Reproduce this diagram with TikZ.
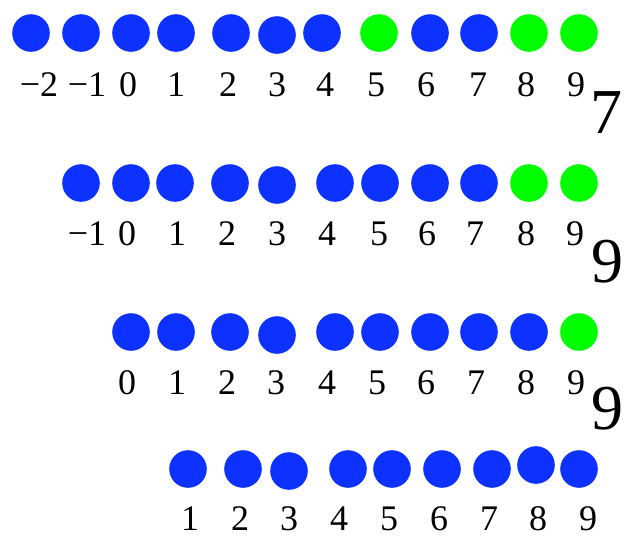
\documentclass[tikz,border=0pt]{standalone}
\usepackage{fontspec}
\setmainfont{LiberationSerif}[Extension=.ttf, UprightFont=*-Regular]
\definecolor{dotblue}{RGB}{13,50,255}
\definecolor{dotgreen}{RGB}{0,255,0}
\tikzset{
  dot/.style={circle, fill=dotblue, minimum size=37.6pt, inner sep=0pt},
  gdot/.style={dot, fill=dotgreen},
  lab/.style={anchor=base, font=\fontsize{36}{40}\selectfont, inner sep=0pt},
  big/.style={anchor=base, font=\fontsize{64}{70}\selectfont, inner sep=0pt}
}
\begin{document}
\begin{tikzpicture}[x=1pt,y=-1pt]
\useasboundingbox (0,0) rectangle (636,550);
% Row 1
\foreach \n/\x/\y/\s in {a/31/33/dot,b/81/33/dot,c/131/33/dot,d/176/33/dot,e/231/33/dot,f/277/35/dot,g/322/33/dot,h/379/33/gdot,i/430/33/dot,j/479/33/dot,k/529/33/gdot,l/579/33/gdot}
  \node[\s] (r1\n) at (\x,\y) {};
\foreach \n/\x/\t in {a/39/−2,b/87/−1,c/128/0,d/176/1,e/228/2,f/277/3,g/325/4,h/376/5,i/426/6,j/478/7,k/526/8,l/576/9}
  \node[lab] (t1\n) at (\x,96.5) {\t};
\node[big] (big1) at (606,133) {7};
% Row 2
\foreach \n/\x/\y/\s in {b/81/183/dot,c/131/183/dot,d/175/183/dot,e/230/183/dot,f/277/185/dot,g/335/183/dot,h/380/183/dot,i/430/183/dot,j/479/183/dot,k/529/183/gdot,l/579/183/gdot}
  \node[\s] (r2\n) at (\x,\y) {};
\foreach \n/\x/\t in {b/87/−1,c/127/0,d/177/1,e/227/2,f/277/3,g/327/4,h/379/5,i/427/6,j/475/7,k/526/8,l/575/9}
  \node[lab] (t2\n) at (\x,245) {\t};
\node[big] (big2) at (607,282) {9};
% Row 3
\foreach \n/\x/\y/\s in {c/131/332/dot,d/176/332/dot,e/230/332/dot,f/277/335/dot,g/335/332/dot,h/380/332/dot,i/430/332/dot,j/479/332/dot,k/529/332/dot,l/579/332/gdot}
  \node[\s] (r3\n) at (\x,\y) {};
\foreach \n/\x/\t in {c/127/0,d/177/1,e/227/2,f/276/3,g/327/4,h/377/5,i/426/6,j/476/7,k/526/8,l/576/9}
  \node[lab] (t3\n) at (\x,394) {\t};
\node[big] (big3) at (607,429) {9};
% Row 4
\foreach \n/\x/\y in {d/188/469,e/243/469,f/289/471,g/348/469,h/392/469,i/442/469,j/492/469,k/536/465,l/579/469}
  \node[dot] (r4\n) at (\x,\y) {};
\foreach \n/\x/\t in {d/190/1,e/240/2,f/289/3,g/339/4,h/389/5,i/439/6,j/489/7,k/538/8,l/588/9}
  \node[lab] (t4\n) at (\x,530) {\t};
\end{tikzpicture}
\end{document}
